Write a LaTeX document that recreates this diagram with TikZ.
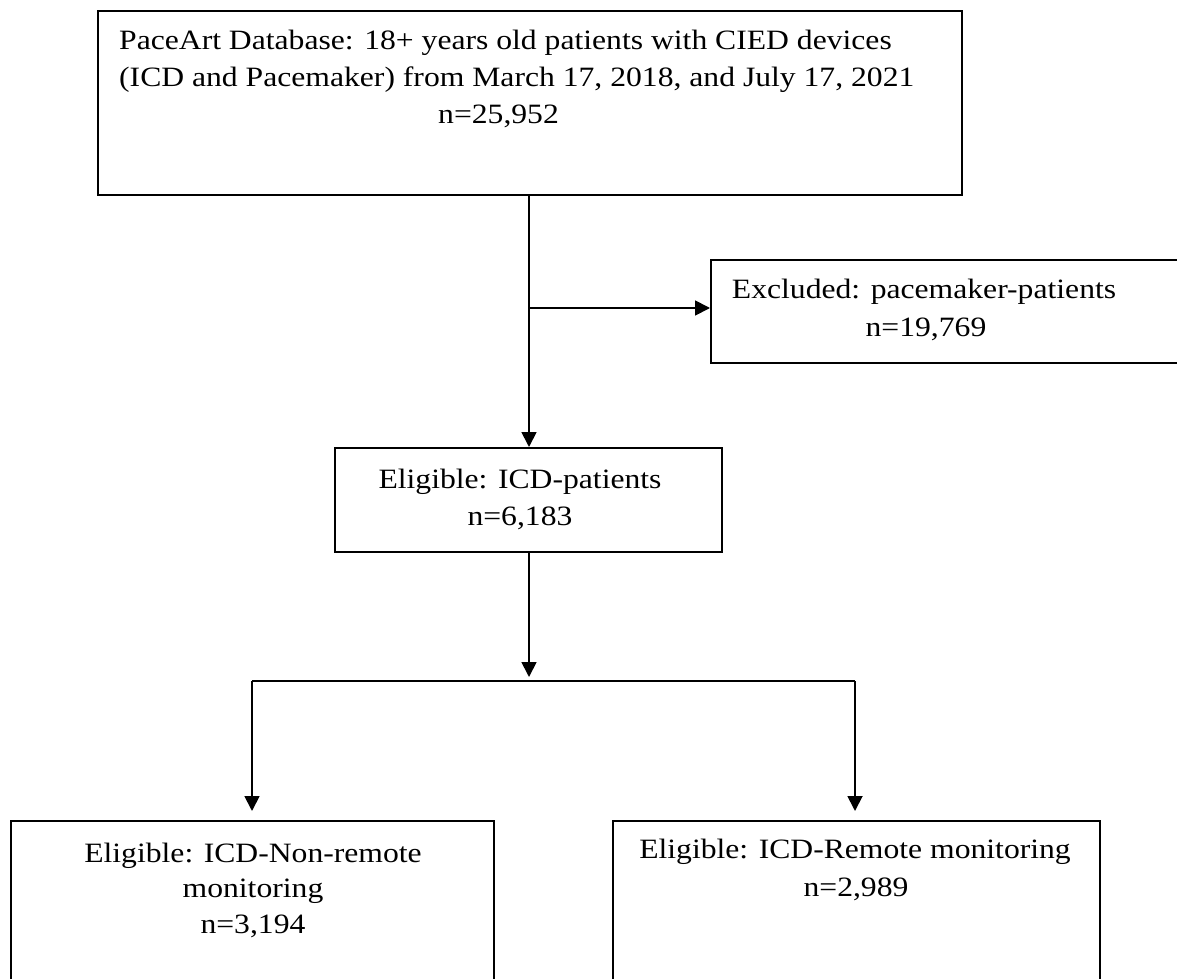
\documentclass[tikz,border=0pt]{standalone}
\usepackage{fontspec}
\setmainfont{Liberation Serif}[FakeStretch=1.13]
\usetikzlibrary{arrows.meta}
\begin{document}
\begin{tikzpicture}[x=1pt,y=-1pt,
  box/.style={draw,line width=1.8pt,inner sep=0pt,anchor=north west},
  txt/.style={inner sep=0pt,font=\fontsize{28}{37}\selectfont},
  conn/.style={line width=1.8pt},
  arr/.style={conn,-{Triangle[length=15pt,width=15pt]}}]
\useasboundingbox (0,0) rectangle (1177,979);
\clip (0,0) rectangle (1177,979);
% boxes
\node[box,minimum width=864pt,minimum height=184pt] (src) at (97,10) {};
\node[box,minimum width=500pt,minimum height=103pt] (excl) at (710,259) {};
\node[box,minimum width=387pt,minimum height=104pt] (elig) at (334,447) {};
\node[box,minimum width=483pt,minimum height=200pt] (nonrem) at (10,820) {};
\node[box,minimum width=487pt,minimum height=200pt] (rem) at (612,820) {};
% texts
\node[txt,anchor=base west] (src1) at (119,50) {PaceArt Database: 18+ years old patients with CIED devices};
\node[txt,anchor=base west] (src2) at (119,87) {(ICD and Pacemaker) from March 17, 2018, and July 17, 2021};
\node[txt,anchor=base west] (src3) at (438,124) {n=25,952};
\node[txt,anchor=base] (excl1) at (924,298) {Excluded: pacemaker-patients};
\node[txt,anchor=base] (excl2) at (926,336) {n=19,769};
\node[txt,anchor=base] (elig1) at (520,488) {Eligible: ICD-patients};
\node[txt,anchor=base] (elig2) at (520,525) {n=6,183};
\node[txt,anchor=base] (nonrem1) at (253,862) {Eligible: ICD-Non-remote};
\node[txt,anchor=base] (nonrem2) at (253,897) {monitoring};
\node[txt,anchor=base] (nonrem3) at (253,933) {n=3,194};
\node[txt,anchor=base] (rem1) at (855,858) {Eligible: ICD-Remote monitoring};
\node[txt,anchor=base] (rem2) at (856,896) {n=2,989};
% connectors
\coordinate (br) at (529,308);
\coordinate (fl) at (252,681);
\coordinate (fr) at (855,681);
\draw[arr] (src.south -| br) -- (elig.north -| br);
\draw[arr] (br) -- (br -| excl.west);
\draw[arr,shorten >=4pt] (elig.south -| br) -- (fl -| br);
\draw[conn] (fl) -- (fr);
\draw[arr,shorten >=9pt] (fl) -- (fl |- nonrem.north);
\draw[arr,shorten >=9pt] (fr) -- (fr |- rem.north);
\end{tikzpicture}
\end{document}
